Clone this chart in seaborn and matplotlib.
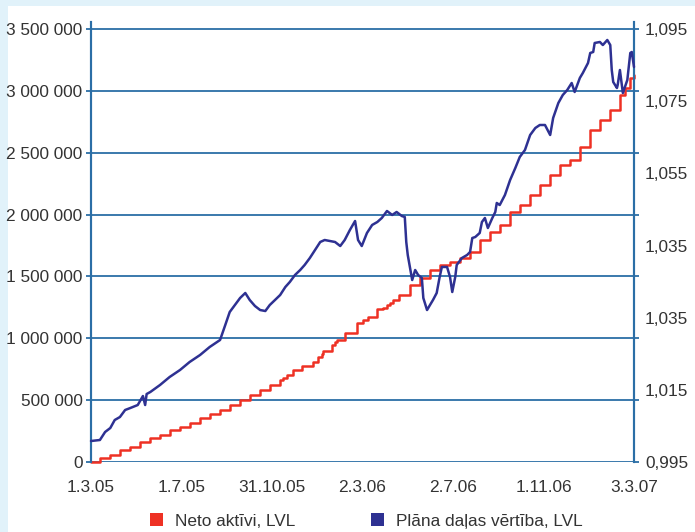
import numpy as np
import pandas as pd
import matplotlib
matplotlib.use("Agg")
import matplotlib.pyplot as plt
from matplotlib.patches import Patch, Rectangle
import seaborn as sns

# ---- data -------------------------------------------------------------
# days counted from 1.3.2005
net_days = [0, 12, 26, 39, 53, 66, 80, 93, 106, 120, 133, 147, 160, 174, 187,
            201, 214, 228, 241, 255, 259, 264, 272, 284, 299, 306, 311, 313,
            325, 329, 332, 342, 359, 367, 373, 386, 394, 399, 403, 407, 415,
            430, 444, 457, 470, 484, 497, 511, 524, 538, 551, 565, 578, 592,
            605, 619, 632, 646, 659, 673, 686, 700, 713, 720, 727, 732]
net_assets = [0, 32000, 57000, 97000, 121000, 162000, 194000, 218000, 259000,
              283000, 315000, 356000, 388000, 420000, 461000, 501000, 542000,
              582000, 622000, 663000, 679000, 703000, 744000, 776000, 808000,
              849000, 873000, 897000, 946000, 970000, 986000, 1043000,
              1124000, 1148000, 1172000, 1237000, 1245000, 1269000, 1285000,
              1309000, 1350000, 1431000, 1487000, 1552000, 1592000, 1617000,
              1649000, 1697000, 1794000, 1859000, 1916000, 2021000, 2077000,
              2158000, 2239000, 2320000, 2401000, 2441000, 2546000, 2684000,
              2764000, 2845000, 2966000, 3023000, 3104000, 3128000]

unit_days = [0, 12, 19, 26, 32, 39, 46, 53, 63, 70, 73, 75, 80, 93, 106, 120,
             133, 147, 160, 174, 181, 187, 194, 201, 208, 214, 221, 228, 235,
             241, 248, 255, 262, 268, 275, 282, 288, 295, 302, 309, 315, 322,
             329, 336, 342, 349, 356, 360, 365, 372, 379, 386, 392, 399, 406,
             412, 419, 423, 425, 427, 433, 437, 441, 446, 448, 453, 457, 461,
             466, 470, 473, 480, 484, 487, 491, 493, 500, 507, 511, 514, 518,
             524, 527, 531, 535, 541, 545, 547, 551, 558, 565, 572, 578, 585,
             592, 599, 605, 612, 619, 623, 630, 636, 642, 648, 652, 659, 663,
             670, 673, 677, 679, 686, 690, 696, 700, 702, 704, 709, 710, 713,
             717, 723, 727, 729, 732]
unit_value = [0.99985, 1.00008, 1.00193, 1.00285, 1.00470, 1.00539, 1.00701,
              1.00747, 1.00816, 1.01024, 1.00816, 1.01070, 1.01117, 1.01278,
              1.01463, 1.01625, 1.01810, 1.01971, 1.02156, 1.02318, 1.02664,
              1.02964, 1.03126, 1.03288, 1.03403, 1.03241, 1.03103, 1.03010,
              1.02987, 1.03126, 1.03241, 1.03357, 1.03542, 1.03657, 1.03819,
              1.03934, 1.04050, 1.04211, 1.04396, 1.04581, 1.04627, 1.04604,
              1.04581, 1.04488, 1.04627, 1.04858, 1.05066, 1.04627, 1.04488,
              1.04789, 1.04974, 1.05043, 1.05135, 1.05297, 1.05205, 1.05274,
              1.05181, 1.05158, 1.04581, 1.04281, 1.03703, 1.03934, 1.03819,
              1.03750, 1.03288, 1.03010, 1.03126, 1.03241, 1.03403, 1.03772,
              1.04004, 1.04004, 1.03772, 1.03426, 1.03772, 1.04050, 1.04211,
              1.04281, 1.04350, 1.04673, 1.04696, 1.04789, 1.05043, 1.05135,
              1.04904, 1.05135, 1.05274, 1.05482, 1.05435, 1.05666, 1.06013,
              1.06290, 1.06544, 1.06706, 1.07052, 1.07214, 1.07283, 1.07283,
              1.07052, 1.07445, 1.07791, 1.07976, 1.08091, 1.08253, 1.08045,
              1.08369, 1.08484, 1.08715, 1.08946, 1.08969, 1.09177, 1.09200,
              1.09130, 1.09246, 1.09130, 1.08553, 1.08276, 1.08137, 1.08207,
              1.08553, 1.08022, 1.08322, 1.08946, 1.08969, 1.08622]

x_tick_days = [0, 122, 244, 366, 488, 610, 732]
x_tick_labels = ["1.3.05", "1.7.05", "31.10.05", "2.3.06", "2.7.06",
                 "1.11.06", "3.3.07"]
left_ticks = [0, 500000, 1000000, 1500000, 2000000, 2500000, 3000000, 3500000]
left_labels = ["0", "500 000", "1 000 000", "1 500 000", "2 000 000",
               "2 500 000", "3 000 000", "3 500 000"]
right_labels = ["0,995", "1,015", "1,035", "1,035", "1,055", "1,075", "1,095"]
legend_labels = ["Neto aktīvi, LVL", "Plāna daļas vērtība, LVL"]

# ---- style ------------------------------------------------------------
RED = "#ee3124"
NAVY = "#2e3192"
GRID = "#2b6ea6"
TEXT = "#333333"
BG = "#e1f2fa"

sns.set_theme(style="white")
plt.rcParams["font.family"] = ["Liberation Sans", "DejaVu Sans"]
plt.rcParams["text.color"] = TEXT
FS = 12.4

W, H = 695, 532
fig = plt.figure(figsize=(W / 100, H / 100), dpi=100, facecolor=BG)
fig.patches.append(Rectangle((8 / W, 0), 1, (H - 6) / H, transform=fig.transFigure,
                             facecolor="white", edgecolor="none", zorder=-5))

x0, x1 = 91, 634          # axis columns
y_zero, y_top_tick, y_top = 462, 29, 22
ax = fig.add_axes([x0 / W, (H - y_zero) / H, (x1 - x0) / W, (y_zero - y_top) / H])
ax.set_facecolor("none")
ax2 = ax.twinx()

net = pd.DataFrame({"day": net_days, "value": net_assets})
unit = pd.DataFrame({"day": unit_days, "value": unit_value})

sns.lineplot(data=net, x="day", y="value", ax=ax, color=RED, lw=1.8,
             drawstyle="steps-post", clip_on=False, zorder=3)
sns.lineplot(data=unit, x="day", y="value", ax=ax2, color=NAVY, lw=1.8,
             clip_on=False, zorder=3)

stretch = (y_zero - y_top) / (y_zero - y_top_tick)
ax.set_xlim(0, 732)
ax.set_ylim(0, 3500000 * stretch)
ax2.set_ylim(0.995, 0.995 + 0.1 * stretch)

ax.set_yticks(left_ticks)
ax.set_yticklabels(left_labels, fontsize=FS, color=TEXT)
ax.tick_params(axis="y", left=True, right=True, direction="out", length=3.6,
               width=1.3, color=GRID, pad=2.5)
ax.grid(axis="y", color=GRID, lw=1.3)
ax.grid(axis="x", visible=False)
ax.set_axisbelow(True)

ax.set_xticks(x_tick_days)
ax.set_xticklabels(x_tick_labels, fontsize=FS, color=TEXT)
ax.tick_params(axis="x", which="major", length=0, pad=13)
ax.set_xticks([0, 732], minor=True)
ax.tick_params(axis="x", which="minor", bottom=True, direction="out",
               length=9.4, width=1.5, color=GRID)

ax2.set_yticks(np.linspace(0.995, 1.095, 7))
ax2.set_yticklabels(right_labels, fontsize=FS, color=TEXT)
ax2.tick_params(axis="y", right=True, length=0, pad=8)
ax2.grid(False)

for a in (ax, ax2):
    a.set_xlabel("")
    a.set_ylabel("")
    for side in ("top", "bottom"):
        a.spines[side].set_visible(False)
    for side in ("left", "right"):
        a.spines[side].set_color(GRID)
        a.spines[side].set_linewidth(1.5)

handles = [Patch(facecolor=RED, edgecolor="none", label=legend_labels[0]),
           Patch(facecolor=NAVY, edgecolor="none", label=legend_labels[1])]
fig.legend(handles=handles, loc="center left", bbox_to_anchor=(150 / W, 11 / H),
           ncol=2, frameon=False, fontsize=FS, handlelength=0.75,
           handleheight=0.75, handletextpad=0.7, columnspacing=4.4,
           borderpad=0, borderaxespad=0)

fig.savefig("out.png", dpi=100, facecolor=BG)
